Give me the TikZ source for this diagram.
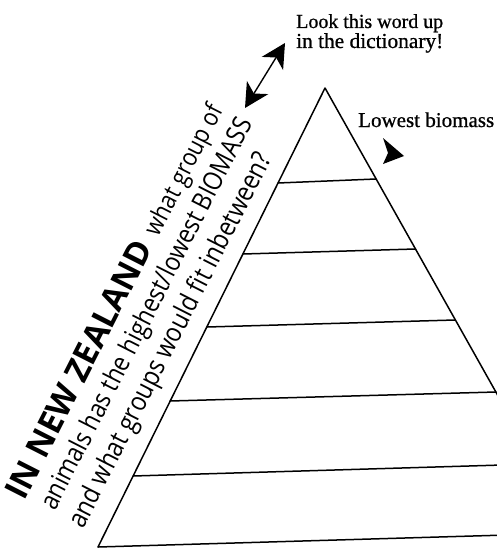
\documentclass[tikz,border=0pt]{standalone}
\usepackage{graphicx}
\usepackage{fontspec}
\setmainfont{Liberation Serif}
\newfontfamily\heavyserif[FakeBold=0.8]{Liberation Serif}
\newfontfamily\sansq{Open Sans}
\usetikzlibrary{arrows.meta}
\newcommand{\tallsans}[2]{\resizebox{#1}{!}{\scalebox{1}[1.15]{\sansq\fontsize{21}{25}\selectfont #2}}}
\begin{document}
\begin{tikzpicture}[x=1pt,y=-1pt,
  pyr/.style={line width=1.5pt, line cap=round, line join=round},
  tilt/.style={rotate=63, anchor=base west, inner sep=0pt},
  lbl/.style={anchor=base west, inner sep=0pt},
  bighead/.tip={Stealth[length=24pt,width=25pt,inset=7pt]}]
\useasboundingbox (0,0) rectangle (497,551);
\clip (0,0) rectangle (497,551);
% pyramid corners
\coordinate (A) at (325,88);
\coordinate (BL) at (98,547);
\coordinate (BR) at (583,547);
% left ends of level lines
\coordinate (l1) at (278,183);
\coordinate (l2) at (243,254);
\coordinate (l3) at (207,327);
\coordinate (l4) at (170,401);
\coordinate (l5) at (133,476);
% right ends of level lines
\coordinate (r1) at (376,179);
\coordinate (r2) at (415.5,249);
\coordinate (r3) at (455,320);
\coordinate (r4) at (496,392);
\coordinate (r5) at (536,464);
\coordinate (r6) at (575,533);
\draw[pyr] (BL) -- (A) -- (BR);
\draw[pyr] (l1) -- (r1);
\draw[pyr] (l2) -- (r2);
\draw[pyr] (l3) -- (r3);
\draw[pyr] (l4) -- (r4);
\draw[pyr] (l5) -- (r5);
\draw[pyr] (BL) -- (r6);
% double arrow
\coordinate (dl) at (245,108);
\coordinate (du) at (285,43);
\draw[line width=1.4pt, {bighead}-{bighead}] (dl) -- (du);
% lone arrowhead
\fill (383,138) -- (404,156) -- (383,164) -- (388,153) -- cycle;
% labels
\node[lbl] (look1) at (296,28) {\resizebox{147pt}{!}{\heavyserif Look this word up}};
\node[lbl] (look2) at (296,48) {\resizebox{147pt}{!}{\heavyserif in the dictionary!}};
\node[lbl] (low) at (358,127) {\resizebox{136pt}{!}{\heavyserif Lowest biomass}};
% rotated question
\node[tilt] (q1) at (24,502) {\resizebox{285pt}{!}{\sansq\bfseries\fontsize{34}{40}\selectfont IN NEW ZEALAND}\hspace{12pt}\tallsans{143pt}{what group of}};
\node[tilt] (q2) at (55,512) {\tallsans{436pt}{animals has the highest/lowest BIOMASS}};
\node[tilt] (q3) at (83,530) {\tallsans{417pt}{and what groups would fit inbetween?}};
\end{tikzpicture}
\end{document}
